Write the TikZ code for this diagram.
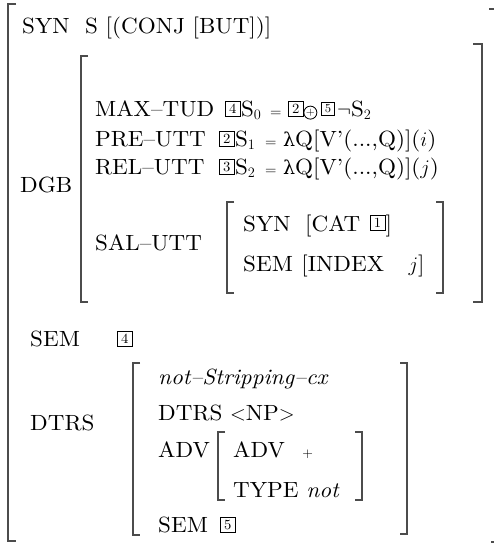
\documentclass[tikz,border=0pt]{standalone}
\usepackage{fontspec}
\setmainfont{lmroman10-regular}[Extension=.otf, ItalicFont=lmroman10-italic, BoldFont=lmroman10-bold, FakeStretch=1.05]
\newfontfamily\gkfont{DejaVu Serif}
\tikzset{
  lbl/.style={anchor=base west, inner sep=0pt, font=\fontsize{22}{26}\selectfont},
  bx/.style={draw, line width=0.8pt, inner sep=0pt, minimum size=15pt, anchor=south west, font=\fontsize{14}{14}\selectfont},
  cplus/.style={draw, circle, line width=0.8pt, inner sep=0pt, minimum size=13pt, anchor=south west, font=\fontsize{11}{11}\selectfont},
  brk/.style={draw=black!70, line width=1.3pt},
}
\begin{document}
\begin{tikzpicture}[x=1pt,y=-1pt]
\useasboundingbox (0,0) rectangle (494,543);
% brackets
\draw[brk] (16,4) -- (8,4) -- (8,541) -- (16,541);
\draw[brk] (489,9) -- (494,9);
\draw[brk] (491,542) -- (494,542);
\draw[brk] (88,56) -- (81,56) -- (81,302) -- (88,302);
\draw[brk] (473,44) -- (482,44) -- (482,302) -- (473,302);
\draw[brk] (234,202) -- (227,202) -- (227,293) -- (234,293);
\draw[brk] (436,202) -- (443,202) -- (443,293) -- (436,293);
\draw[brk] (140,363) -- (133,363) -- (133,535) -- (140,535);
\draw[brk] (400,363) -- (407,363) -- (407,534) -- (400,534);
\draw[brk] (225,432) -- (218,432) -- (218,500) -- (225,500);
\draw[brk] (355,432) -- (362,432) -- (362,500) -- (355,500);
% line 1
\node[lbl] (syn) at (22,34) {SYN};
\node[lbl] (synv) at (85,34) {S [(CONJ [BUT])]};
% DGB
\node[lbl] (dgb) at (20,192) {DGB};
\node[lbl] (maxtud) at (95,116) {MAX--TUD};
\node[bx] (b4a) at (225,117) {4};
\node[lbl] (s0) at (b4a.south east |- 0,116) {S$_0$};
\node[lbl] (eq0) at (270,116) {\fontsize{14}{14}\selectfont =};
\node[bx] (b2a) at (288,117) {2};
\node[cplus] (op) at (305.5,117.5) {+};
\node[bx, minimum size=13pt, font=\fontsize{12}{12}\selectfont] (b5a) at (321,116) {5};
\node[lbl] (negs2) at (337,116) {$\neg$S$_2$};
\node[lbl] (preutt) at (95,146) {PRE--UTT};
\node[bx] (b2b) at (219,147) {2};
\node[lbl] (s1) at (b2b.south east |- 0,146) {S$_1$};
\node[lbl] (eq1) at (265,146) {\fontsize{14}{14}\selectfont =};
\node[lbl] (lam1) at (283,146) {{\gkfont\fontsize{19}{19}\selectfont λ}Q[V'(...,Q)]($i$)};
\node[lbl] (relutt) at (95,174) {REL--UTT};
\node[bx] (b3) at (219,175) {3};
\node[lbl] (s2) at (b3.south east |- 0,174) {S$_2$};
\node[lbl] (eq2) at (265,174) {\fontsize{14}{14}\selectfont =};
\node[lbl] (lam2) at (283,174) {{\gkfont\fontsize{19}{19}\selectfont λ}Q[V'(...,Q)]($j$)};
\node[lbl] (salutt) at (95,250) {SAL--UTT};
\node[lbl] (isyn) at (243,231) {SYN};
\node[lbl] (icat) at (305,231) {[CAT};
\node[bx] (b1) at ([xshift=9pt]icat.base east) {1};
\node[lbl] (icatc) at (b1.south east) {]};
\node[lbl] (isem) at (243,271) {SEM};
\node[lbl] (iindex) at ([xshift=8pt]isem.base east) {[INDEX};
\node[lbl] (ij) at ([xshift=24pt]iindex.base east) {$j$]};
% SEM
\node[lbl] (sem) at (30,346) {SEM};
\node[bx] (b4b) at (117,347) {4};
% DTRS
\node[lbl] (dtrs) at (30,430) {DTRS};
\node[lbl] (nsc) at (158,384) {\itshape not--Stripping--cx};
\node[lbl] (dtrs2) at (158,420) {DTRS $<$NP$>$};
\node[lbl] (adv) at (158,457) {ADV};
\node[lbl] (adv2) at (233,457) {ADV};
\node[lbl] (plus) at ([xshift=17pt]adv2.base east) {\fontsize{13}{13}\selectfont +};
\node[lbl] (type) at (233,497) {TYPE \textit{not}};
\node[lbl] (sem2) at (158,532) {SEM};
\node[bx] (b5b) at (220,533) {5};
\end{tikzpicture}
\end{document}
